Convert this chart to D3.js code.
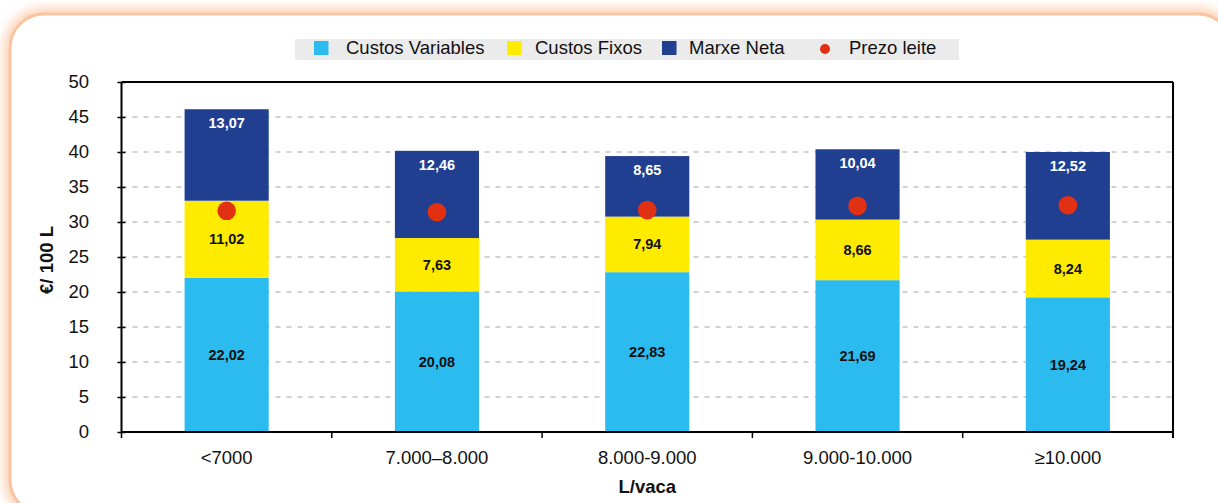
<!DOCTYPE html>
<html>
<head>
<meta charset="utf-8">
<script src="https://cdn.jsdelivr.net/npm/d3@7"></script>
<style>
  body { margin: 0; background: #fff; }
  svg { display: block; font-family: "Liberation Sans", Arial, Helvetica, sans-serif; }
  .grid line { stroke: #c4c4c4; stroke-width: 1.3; stroke-dasharray: 5 6; }
</style>
</head>
<body>
<div id="chart"></div>
<script>
var W = 1218, H = 503;
var margin = {top: 82, right: 45, bottom: 71, left: 121.5},
  width = W - margin.left - margin.right,
  height = H - margin.top - margin.bottom;

// data
var categories = ["<7000", "7.000\u20138.000", "8.000-9.000", "9.000-10.000", "\u226510.000"];
var custosVariables = [22.02, 20.08, 22.83, 21.69, 19.24];
var custosFixos = [11.02, 7.63, 7.94, 8.66, 8.24];
var marxeNeta = [13.07, 12.46, 8.65, 10.04, 12.52];
var prezoLeite = [31.6, 31.4, 31.7, 32.3, 32.4];
var yTicks = [0, 5, 10, 15, 20, 25, 30, 35, 40, 45, 50];

var seriesNames = ["Custos Variables", "Custos Fixos", "Marxe Neta"];
var colors = ["#2cbbee", "#ffeb00", "#213f91"];
var dotColor = "#e23012";

var svg = d3.select("#chart").append("svg")
  .attr("width", W)
  .attr("height", H);

// frame with soft orange glow
var defs = svg.append("defs");
defs.append("filter").attr("id", "glow")
  .attr("x", "-10%").attr("y", "-10%").attr("width", "120%").attr("height", "120%")
  .append("feGaussianBlur").attr("stdDeviation", 5);

svg.append("rect")
  .attr("x", 10).attr("y", 14).attr("width", 1222).attr("height", 500)
  .attr("rx", 34).attr("ry", 34)
  .attr("fill", "none").attr("stroke", "#fcc9a8").attr("stroke-width", 14)
  .attr("opacity", 0.75)
  .attr("filter", "url(#glow)");
svg.append("rect")
  .attr("x", 10).attr("y", 14).attr("width", 1222).attr("height", 500)
  .attr("rx", 34).attr("ry", 34)
  .attr("fill", "#fff").attr("stroke", "#fbc3a0").attr("stroke-width", 3);

var g = svg.append("g")
  .attr("transform", "translate(" + margin.left + "," + margin.top + ")");

var x = d3.scaleBand()
  .domain(categories)
  .range([0, width])
  .paddingInner(0.6)
  .paddingOuter(0.3);

var xb = d3.scaleBand().domain(categories).range([0, width]);

var y = d3.scaleLinear()
  .domain([0, 50])
  .range([height, 0]);

// gridlines
g.append("g").attr("class", "grid")
  .selectAll("line")
  .data(yTicks.filter(function(d) { return d > 0 && d < 50; }))
  .join("line")
  .attr("x1", 0).attr("x2", width)
  .attr("y1", function(d) { return y(d); })
  .attr("y2", function(d) { return y(d); });

// stacked bars
var rows = categories.map(function(c, i) {
  return {cat: c, "Custos Variables": custosVariables[i], "Custos Fixos": custosFixos[i], "Marxe Neta": marxeNeta[i]};
});
var stacked = d3.stack().keys(seriesNames)(rows);

var layers = g.selectAll(".layer")
  .data(stacked)
  .join("g")
  .attr("class", "layer")
  .attr("fill", function(d, i) { return colors[i]; });

layers.selectAll("rect")
  .data(function(d) { return d; })
  .join("rect")
  .attr("x", function(d) { return x(d.data.cat); })
  .attr("width", x.bandwidth())
  .attr("y", function(d) { return y(d[1]); })
  .attr("height", function(d) { return y(d[0]) - y(d[1]); });

// value labels
var fmt = function(v) { return v.toFixed(2).replace(".", ","); };
stacked.forEach(function(layer, li) {
  g.append("g").selectAll("text")
    .data(layer)
    .join("text")
    .attr("x", function(d) { return x(d.data.cat) + x.bandwidth() / 2; })
    .attr("y", function(d) {
      if (li === 2) return y(d[1]) + 14;
      return (y(d[0]) + y(d[1])) / 2;
    })
    .attr("dy", "0.35em")
    .attr("text-anchor", "middle")
    .attr("font-size", 14.5)
    .attr("font-weight", "bold")
    .attr("fill", li === 2 ? "#fff" : "#111")
    .text(function(d) { return fmt(d[1] - d[0]); });
});

// milk price dots
g.append("g").selectAll("circle")
  .data(prezoLeite)
  .join("circle")
  .attr("cx", function(d, i) { return x(categories[i]) + x.bandwidth() / 2; })
  .attr("cy", function(d) { return y(d); })
  .attr("r", 9.3)
  .attr("fill", dotColor);

// frame lines top and right
g.append("line").attr("x1", 0).attr("x2", width).attr("y1", 0).attr("y2", 0)
  .attr("stroke", "#000").attr("stroke-width", 2);
g.append("line").attr("x1", width).attr("x2", width).attr("y1", 0).attr("y2", height + 6)
  .attr("stroke", "#000").attr("stroke-width", 2);

// y axis
var yAxis = g.append("g")
  .call(d3.axisLeft(y).tickValues(yTicks).tickSize(4).tickPadding(28.5));
yAxis.select(".domain").attr("stroke-width", 2).attr("d", "M0,0V" + height);
yAxis.selectAll(".tick line").attr("x2", 4).attr("x1", -4).attr("stroke-width", 1.5);
yAxis.selectAll(".tick text").attr("font-size", 18.5).attr("fill", "#111")
  .attr("font-family", "Liberation Sans, Arial, sans-serif");

// x axis
var xAxis = g.append("g")
  .attr("transform", "translate(0," + height + ")")
  .call(d3.axisBottom(x).tickSize(0).tickPadding(18.5));
xAxis.select(".domain").attr("stroke-width", 2).attr("d", "M0,0H" + width);
xAxis.selectAll(".tick text").attr("font-size", 18.5).attr("fill", "#111")
  .attr("font-family", "Liberation Sans, Arial, sans-serif");
g.append("g").selectAll("line")
  .data(categories)
  .join("line")
  .attr("x1", function(d) { return xb(d); })
  .attr("x2", function(d) { return xb(d); })
  .attr("y1", height).attr("y2", height + 6)
  .attr("stroke", "#000").attr("stroke-width", 1.5);

// axis titles
svg.append("text")
  .attr("x", margin.left + width / 2).attr("y", 493)
  .attr("text-anchor", "middle")
  .attr("font-size", 18.5).attr("font-weight", "bold").attr("fill", "#111")
  .text("L/vaca");
svg.append("text")
  .attr("transform", "translate(52.5," + (margin.top + height / 2 + 3) + ") rotate(-90)")
  .attr("text-anchor", "middle")
  .attr("font-size", 18.5).attr("font-weight", "bold").attr("fill", "#111")
  .text("\u20ac/ 100 L");

// legend
var legend = svg.append("g");
legend.append("rect")
  .attr("x", 295).attr("y", 39).attr("width", 664).attr("height", 21)
  .attr("fill", "#ebebeb");
var legendItems = [
  {name: "Custos Variables", color: colors[0], type: "sq", sx: 314, tx: 346},
  {name: "Custos Fixos", color: colors[1], type: "sq", sx: 507, tx: 535},
  {name: "Marxe Neta", color: colors[2], type: "sq", sx: 662, tx: 689},
  {name: "Prezo leite", color: dotColor, type: "dot", sx: 820, tx: 849}
];
legendItems.forEach(function(d) {
  if (d.type === "sq") {
    legend.append("rect").attr("x", d.sx).attr("y", 41).attr("width", 14.5).attr("height", 14)
      .attr("fill", d.color);
  } else {
    legend.append("circle").attr("cx", d.sx + 5).attr("cy", 49).attr("r", 5).attr("fill", d.color);
  }
  legend.append("text").attr("x", d.tx).attr("y", 53.5)
    .attr("font-size", 18.5).attr("fill", "#111").text(d.name);
});
</script>
</body>
</html>
